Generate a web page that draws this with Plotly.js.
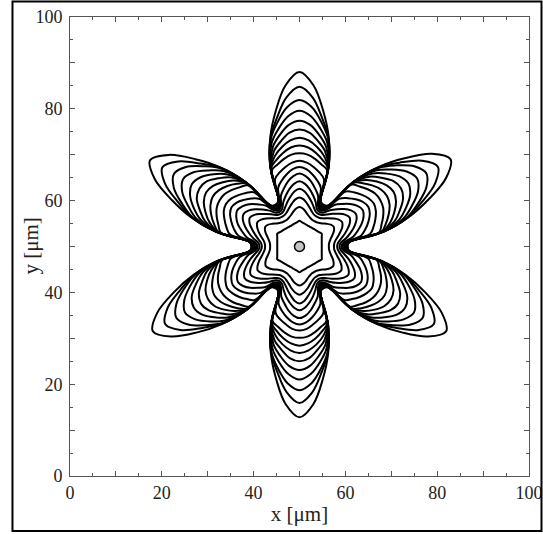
<!DOCTYPE html>
<html><head><meta charset="utf-8">
<script src="https://cdn.plot.ly/plotly-3.0.1.min.js"></script>
<style>html,body{margin:0;padding:0;background:#fff}#chart{width:543px;height:534px}</style>
</head><body><div id="chart"></div>
<script>
// polar sampling angles (degrees) around the nucleation centre at (50, 50) µm
const angles = [0,5,10,15,20,25,30,35,40,45,50,55,60,65,70,75,80,85,90,95,100,105,110,115,
  120,125,130,135,140,145,150,155,160,165,170,175,180,185,190,195,200,205,210,215,220,225,230,235,
  240,245,250,255,260,265,270,275,280,285,290,295,300,305,310,315,320,325,330,335,340,345,350,355];

// radius (µm) of each growth-front contour at the angles above
const contour00 = [4.85,4.87,4.92,5.02,5.16,5.35,5.6,5.35,5.16,5.02,4.92,4.87,
  4.85,4.87,4.92,5.02,5.16,5.35,5.6,5.35,5.16,5.02,4.92,4.87,
  4.85,4.87,4.92,5.02,5.16,5.35,5.6,5.35,5.16,5.02,4.92,4.87,
  4.85,4.87,4.92,5.02,5.16,5.35,5.6,5.35,5.16,5.02,4.92,4.87,
  4.85,4.87,4.92,5.02,5.16,5.35,5.6,5.35,5.16,5.02,4.92,4.87,
  4.85,4.87,4.92,5.02,5.16,5.35,5.6,5.35,5.16,5.02,4.92,4.87];
const contour01 = [6.4,6.45,6.7,7.1,7.7,8.3,8.6,8.3,7.7,7.1,6.7,6.45,
  6.4,6.45,6.7,7.1,7.7,8.3,8.6,8.3,7.7,7.1,6.7,6.45,
  6.4,6.45,6.7,7.1,7.7,8.3,8.6,8.3,7.7,7.1,6.7,6.45,
  6.4,6.45,6.7,7.1,7.7,8.2,8.5,8.2,7.7,7.1,6.7,6.45,
  6.4,6.45,6.7,7.1,7.7,8.2,8.5,8.2,7.7,7.1,6.7,6.45,
  6.4,6.45,6.7,7.1,7.7,8.2,8.5,8.2,7.7,7.1,6.7,6.45];
const contour02 = [7.5,7.6,8.0,8.7,9.5,10.3,10.7,10.3,9.5,8.7,8.0,7.6,
  7.5,7.6,8.0,8.7,9.5,10.3,10.7,10.3,9.5,8.7,8.0,7.6,
  7.5,7.6,8.0,8.7,9.5,10.2,10.6,10.2,9.5,8.7,8.0,7.6,
  7.5,7.6,8.0,8.6,9.4,10.1,10.5,10.1,9.4,8.6,8.0,7.6,
  7.5,7.6,8.0,8.6,9.4,10.1,10.5,10.1,9.4,8.6,8.0,7.6,
  7.5,7.6,8.0,8.6,9.4,10.1,10.5,10.1,9.4,8.6,8.0,7.6];
const contour03 = [8.2,8.4,9.1,10.1,11.1,12.1,12.6,12.1,11.1,10.1,9.1,8.4,
  8.2,8.4,9.1,10.1,11.1,12.1,12.6,12.1,11.1,10.1,9.1,8.4,
  8.2,8.4,9.1,10.0,11.0,12.0,12.5,12.0,11.0,10.0,9.1,8.4,
  8.2,8.4,9.0,9.9,10.9,11.8,12.3,11.8,10.9,9.9,9.0,8.4,
  8.2,8.4,9.0,9.9,10.9,11.9,12.4,11.9,10.9,9.9,9.0,8.4,
  8.2,8.4,9.0,9.9,10.9,11.8,12.3,11.8,10.9,9.9,9.0,8.4];
const contour04 = [8.7,9.0,10.3,11.5,12.7,13.7,14.2,13.7,12.7,11.5,10.3,9.0,
  8.7,9.0,10.3,11.5,12.7,13.7,14.2,13.7,12.7,11.5,10.3,9.0,
  8.7,9.0,10.2,11.4,12.6,13.6,14.1,13.6,12.6,11.4,10.2,9.0,
  8.7,9.0,10.0,11.2,12.3,13.3,13.8,13.3,12.3,11.2,10.0,9.0,
  8.7,9.0,10.1,11.3,12.4,13.4,13.9,13.4,12.4,11.3,10.1,9.0,
  8.7,9.0,10.0,11.2,12.3,13.3,13.8,13.3,12.3,11.2,10.0,9.0];
const contour05 = [9.1,9.6,11.8,13.1,14.4,15.4,15.9,15.4,14.4,13.1,11.8,9.6,
  9.1,9.6,11.8,13.1,14.4,15.4,15.9,15.4,14.4,13.1,11.8,9.6,
  9.1,9.6,11.7,13.0,14.3,15.2,15.7,15.2,14.3,13.0,11.7,9.6,
  9.1,9.6,11.5,12.7,14.0,15.0,15.5,15.0,14.0,12.7,11.5,9.6,
  9.1,9.6,11.6,12.8,14.1,15.1,15.6,15.1,14.1,12.8,11.6,9.6,
  9.1,9.6,11.5,12.7,14.0,15.0,15.5,15.0,14.0,12.7,11.5,9.6];
const contour06 = [9.35,10.0,13.6,14.9,16.0,16.9,17.3,16.9,16.0,14.9,13.6,10.0,
  9.35,10.0,13.6,14.9,16.0,16.9,17.3,16.9,16.0,14.9,13.6,10.0,
  9.35,10.0,13.5,14.8,15.8,16.7,17.1,16.7,15.8,14.8,13.5,10.0,
  9.35,10.0,13.2,14.5,15.6,16.4,16.8,16.4,15.6,14.5,13.2,10.0,
  9.35,10.0,13.3,14.6,15.7,16.6,17.0,16.6,15.7,14.6,13.3,10.0,
  9.35,10.0,13.2,14.5,15.6,16.4,16.8,16.4,15.6,14.5,13.2,10.0];
const contour07 = [9.55,10.2,15.6,16.7,17.6,18.35,18.7,18.35,17.6,16.7,15.6,10.2,
  9.55,10.2,15.6,16.7,17.6,18.35,18.7,18.35,17.6,16.7,15.6,10.2,
  9.55,10.2,15.4,16.5,17.4,18.2,18.5,18.2,17.4,16.5,15.4,10.2,
  9.55,10.2,15.2,16.2,17.1,17.8,18.2,17.8,17.1,16.2,15.2,10.2,
  9.55,10.2,15.3,16.4,17.2,18.0,18.3,18.0,17.2,16.4,15.3,10.2,
  9.55,10.2,15.2,16.2,17.1,17.8,18.2,17.8,17.1,16.2,15.2,10.2];
const contour08 = [9.7,10.35,17.6,18.5,19.4,20.1,20.3,20.1,19.4,18.5,17.6,10.35,
  9.7,10.35,17.6,18.5,19.4,20.1,20.3,20.1,19.4,18.5,17.6,10.35,
  9.7,10.35,17.4,18.3,19.2,19.9,20.1,19.9,19.2,18.3,17.4,10.35,
  9.7,10.35,17.1,18.0,18.9,19.5,19.7,19.5,18.9,18.0,17.1,10.35,
  9.7,10.35,17.2,18.1,19.0,19.7,19.9,19.7,19.0,18.1,17.2,10.35,
  9.7,10.35,17.1,18.0,18.9,19.5,19.7,19.5,18.9,18.0,17.1,10.35];
const contour09 = [9.8,10.45,18.1,19.5,20.7,21.65,22.0,21.65,20.7,19.5,18.1,10.45,
  9.8,10.45,18.1,19.5,20.7,21.65,22.0,21.65,20.7,19.5,18.1,10.45,
  9.8,10.45,17.9,19.3,20.5,21.4,21.8,21.4,20.5,19.3,17.9,10.45,
  9.8,10.45,17.6,19.0,20.1,21.0,21.4,21.0,20.1,19.0,17.6,10.45,
  9.8,10.45,17.7,19.1,20.3,21.2,21.6,21.2,20.3,19.1,17.7,10.45,
  9.8,10.45,17.6,19.0,20.1,21.0,21.4,21.0,20.1,19.0,17.6,10.45];
const contour10 = [9.9,10.55,18.15,20.5,22.0,23.2,23.7,23.2,22.0,20.5,18.15,10.55,
  9.9,10.55,18.15,20.5,22.0,23.2,23.7,23.2,22.0,20.5,18.15,10.55,
  9.9,10.55,18.0,20.3,21.8,23.0,23.5,23.0,21.8,20.3,18.0,10.55,
  9.9,10.55,17.6,19.9,21.4,22.6,23.0,22.6,21.4,19.9,17.6,10.55,
  9.9,10.55,17.8,20.1,21.6,22.7,23.2,22.7,21.6,20.1,17.8,10.55,
  9.9,10.55,17.6,19.9,21.4,22.6,23.0,22.6,21.4,19.9,17.6,10.55];
const contour11 = [10.0,10.6,18.2,21.5,23.3,24.9,25.5,24.9,23.3,21.5,18.2,10.6,
  10.0,10.6,18.2,21.5,23.3,24.9,25.5,24.9,23.3,21.5,18.2,10.6,
  10.0,10.6,18.0,21.3,23.1,24.7,25.2,24.7,23.1,21.3,18.0,10.6,
  10.0,10.6,17.7,20.9,22.6,24.2,24.8,24.2,22.6,20.9,17.7,10.6,
  10.0,10.6,17.8,21.1,22.8,24.4,25.0,24.4,22.8,21.1,17.8,10.6,
  10.0,10.6,17.7,20.9,22.6,24.2,24.8,24.2,22.6,20.9,17.7,10.6];
const contour12 = [10.1,10.7,18.3,22.45,24.7,26.6,27.4,26.6,24.7,22.45,18.3,10.7,
  10.1,10.7,18.3,22.45,24.7,26.6,27.4,26.6,24.7,22.45,18.3,10.7,
  10.1,10.7,18.1,22.2,24.5,26.3,27.1,26.3,24.5,22.2,18.1,10.7,
  10.1,10.7,17.8,21.8,24.0,25.9,26.6,25.9,24.0,21.8,17.8,10.7,
  10.1,10.7,17.9,22.0,24.2,26.1,26.9,26.1,24.2,22.0,17.9,10.7,
  10.1,10.7,17.8,21.8,24.0,25.9,26.6,25.9,24.0,21.8,17.8,10.7];
const contour13 = [10.2,10.75,18.4,23.4,26.1,28.5,29.6,28.5,26.1,23.4,18.4,10.75,
  10.2,10.75,18.4,23.4,26.1,28.5,29.6,28.5,26.1,23.4,18.4,10.75,
  10.2,10.75,18.2,23.2,25.8,28.2,29.3,28.2,25.8,23.2,18.2,10.75,
  10.2,10.75,17.9,22.7,25.4,27.7,28.8,27.7,25.4,22.7,17.9,10.75,
  10.2,10.75,18.0,22.9,25.6,27.9,29.0,27.9,25.6,22.9,18.0,10.75,
  10.2,10.75,17.9,22.7,25.4,27.7,28.8,27.7,25.4,22.7,17.9,10.75];
const contour14 = [10.3,10.8,18.5,24.2,27.5,30.5,31.9,30.5,27.5,24.2,18.5,10.8,
  10.3,10.8,18.5,24.2,27.5,30.5,31.9,30.5,27.5,24.2,18.5,10.8,
  10.3,10.8,18.3,24.0,27.2,30.2,31.6,30.2,27.2,24.0,18.3,10.8,
  10.3,10.8,18.0,23.5,26.7,29.6,31.0,29.6,26.7,23.5,18.0,10.8,
  10.3,10.8,18.1,23.7,27.0,29.9,31.3,29.9,27.0,23.7,18.1,10.8,
  10.3,10.8,18.0,23.5,26.7,29.6,31.0,29.6,26.7,23.5,18.0,10.8];
const contour15 = [10.4,10.85,18.6,24.4,28.4,32.6,34.8,32.6,28.4,24.4,18.6,10.85,
  10.4,10.85,18.6,24.4,28.4,32.6,34.8,32.6,28.4,24.4,18.6,10.85,
  10.4,10.85,18.4,24.2,28.1,32.3,34.5,32.3,28.1,24.2,18.4,10.85,
  10.4,10.85,18.1,23.7,27.6,31.7,33.8,31.7,27.6,23.7,18.1,10.85,
  10.4,10.85,18.2,23.9,27.8,31.9,34.1,31.9,27.8,23.9,18.2,10.85,
  10.4,10.85,18.1,23.7,27.6,31.7,33.8,31.7,27.6,23.7,18.1,10.85];
const contour16 = [10.5,10.9,18.7,24.6,29.9,35.2,38.0,35.2,29.9,24.6,18.7,10.9,
  10.5,10.9,18.7,24.6,29.9,35.2,38.0,35.2,29.9,24.6,18.7,10.9,
  10.5,10.9,18.5,24.4,29.6,34.8,37.6,34.8,29.6,24.4,18.5,10.9,
  10.5,10.9,18.2,23.9,29.1,34.2,36.9,34.2,29.1,23.9,18.2,10.9,
  10.5,10.9,18.3,24.1,29.3,34.5,37.2,34.5,29.3,24.1,18.3,10.9,
  10.5,10.9,18.2,23.9,29.1,34.2,36.9,34.2,29.1,23.9,18.2,10.9];

const nucleusX = [50];
const nucleusY = [50];
const tickValues = [0,10,20,30,40,50,60,70,80,90,100];
const tickLabels = ['0','','20','','40','','60','','80','','100'];

const contours = [contour00,contour01,contour02,contour03,contour04,contour05,contour06,contour07,
  contour08,contour09,contour10,contour11,contour12,contour13,contour14,contour15,contour16];

const traces = contours.map(function(r){
  return {type:'scatterpolar', subplot:'polar', mode:'lines',
    r: r.concat([r[0]]), theta: angles.concat([360]),
    line:{color:'#000', width:2, shape:'spline', smoothing:1},
    hoverinfo:'skip', showlegend:false};
});
traces.push({type:'scatter', x:nucleusX, y:nucleusY, mode:'markers',
  marker:{size:10, color:'#c4c4c4', line:{color:'#000', width:1.5}}, showlegend:false, hoverinfo:'skip'});

const serif = 'Liberation Serif, Times New Roman, serif';

const axisCommon = {
  range:[0,100], tickmode:'array', tickvals:tickValues, ticktext:tickLabels,
  ticks:'inside', ticklen:5, tickwidth:1, tickcolor:'#555',
  showline:true, linecolor:'#555', linewidth:1, mirror:'allticks',
  showgrid:false, zeroline:false, fixedrange:true,
  tickfont:{family:serif, size:18, color:'#222'},
  minor:{dtick:5, ticks:'inside', ticklen:3, tickwidth:1, tickcolor:'#555', showgrid:false}
};

const layout = {
  width:543, height:534,
  margin:{l:70, r:14, t:17, b:58},
  paper_bgcolor:'#fff', plot_bgcolor:'#fff', showlegend:false,
  font:{family:serif, color:'#222'},
  xaxis: Object.assign({}, axisCommon, {title:{text:'x [μm]', font:{family:serif, size:21, color:'#222'}, standoff:4}}),
  yaxis: Object.assign({}, axisCommon, {ticklabelstandoff:3}),
  annotations:[{text:'y [μm]', xref:'paper', yref:'paper', x:-0.087, y:0.5, xanchor:'center', yanchor:'middle',
    textangle:-90, showarrow:false, font:{family:serif, size:21, color:'#222'}}],
  polar:{domain:{x:[0,1], y:[0,1]}, bgcolor:'rgba(0,0,0,0)',
    radialaxis:{visible:false, range:[0,50], showgrid:false, showline:false},
    angularaxis:{visible:false, showgrid:false, showline:false, rotation:0, direction:'counterclockwise'}},
  shapes:[{type:'rect', xref:'paper', yref:'paper', x0:-0.1253, x1:1.0272, y0:-0.1198, y1:1.0338,
    line:{color:'#000', width:2}, layer:'above'}]
};

Plotly.newPlot('chart', traces, layout, {displayModeBar:false, staticPlot:true});
</script>
</body></html>
